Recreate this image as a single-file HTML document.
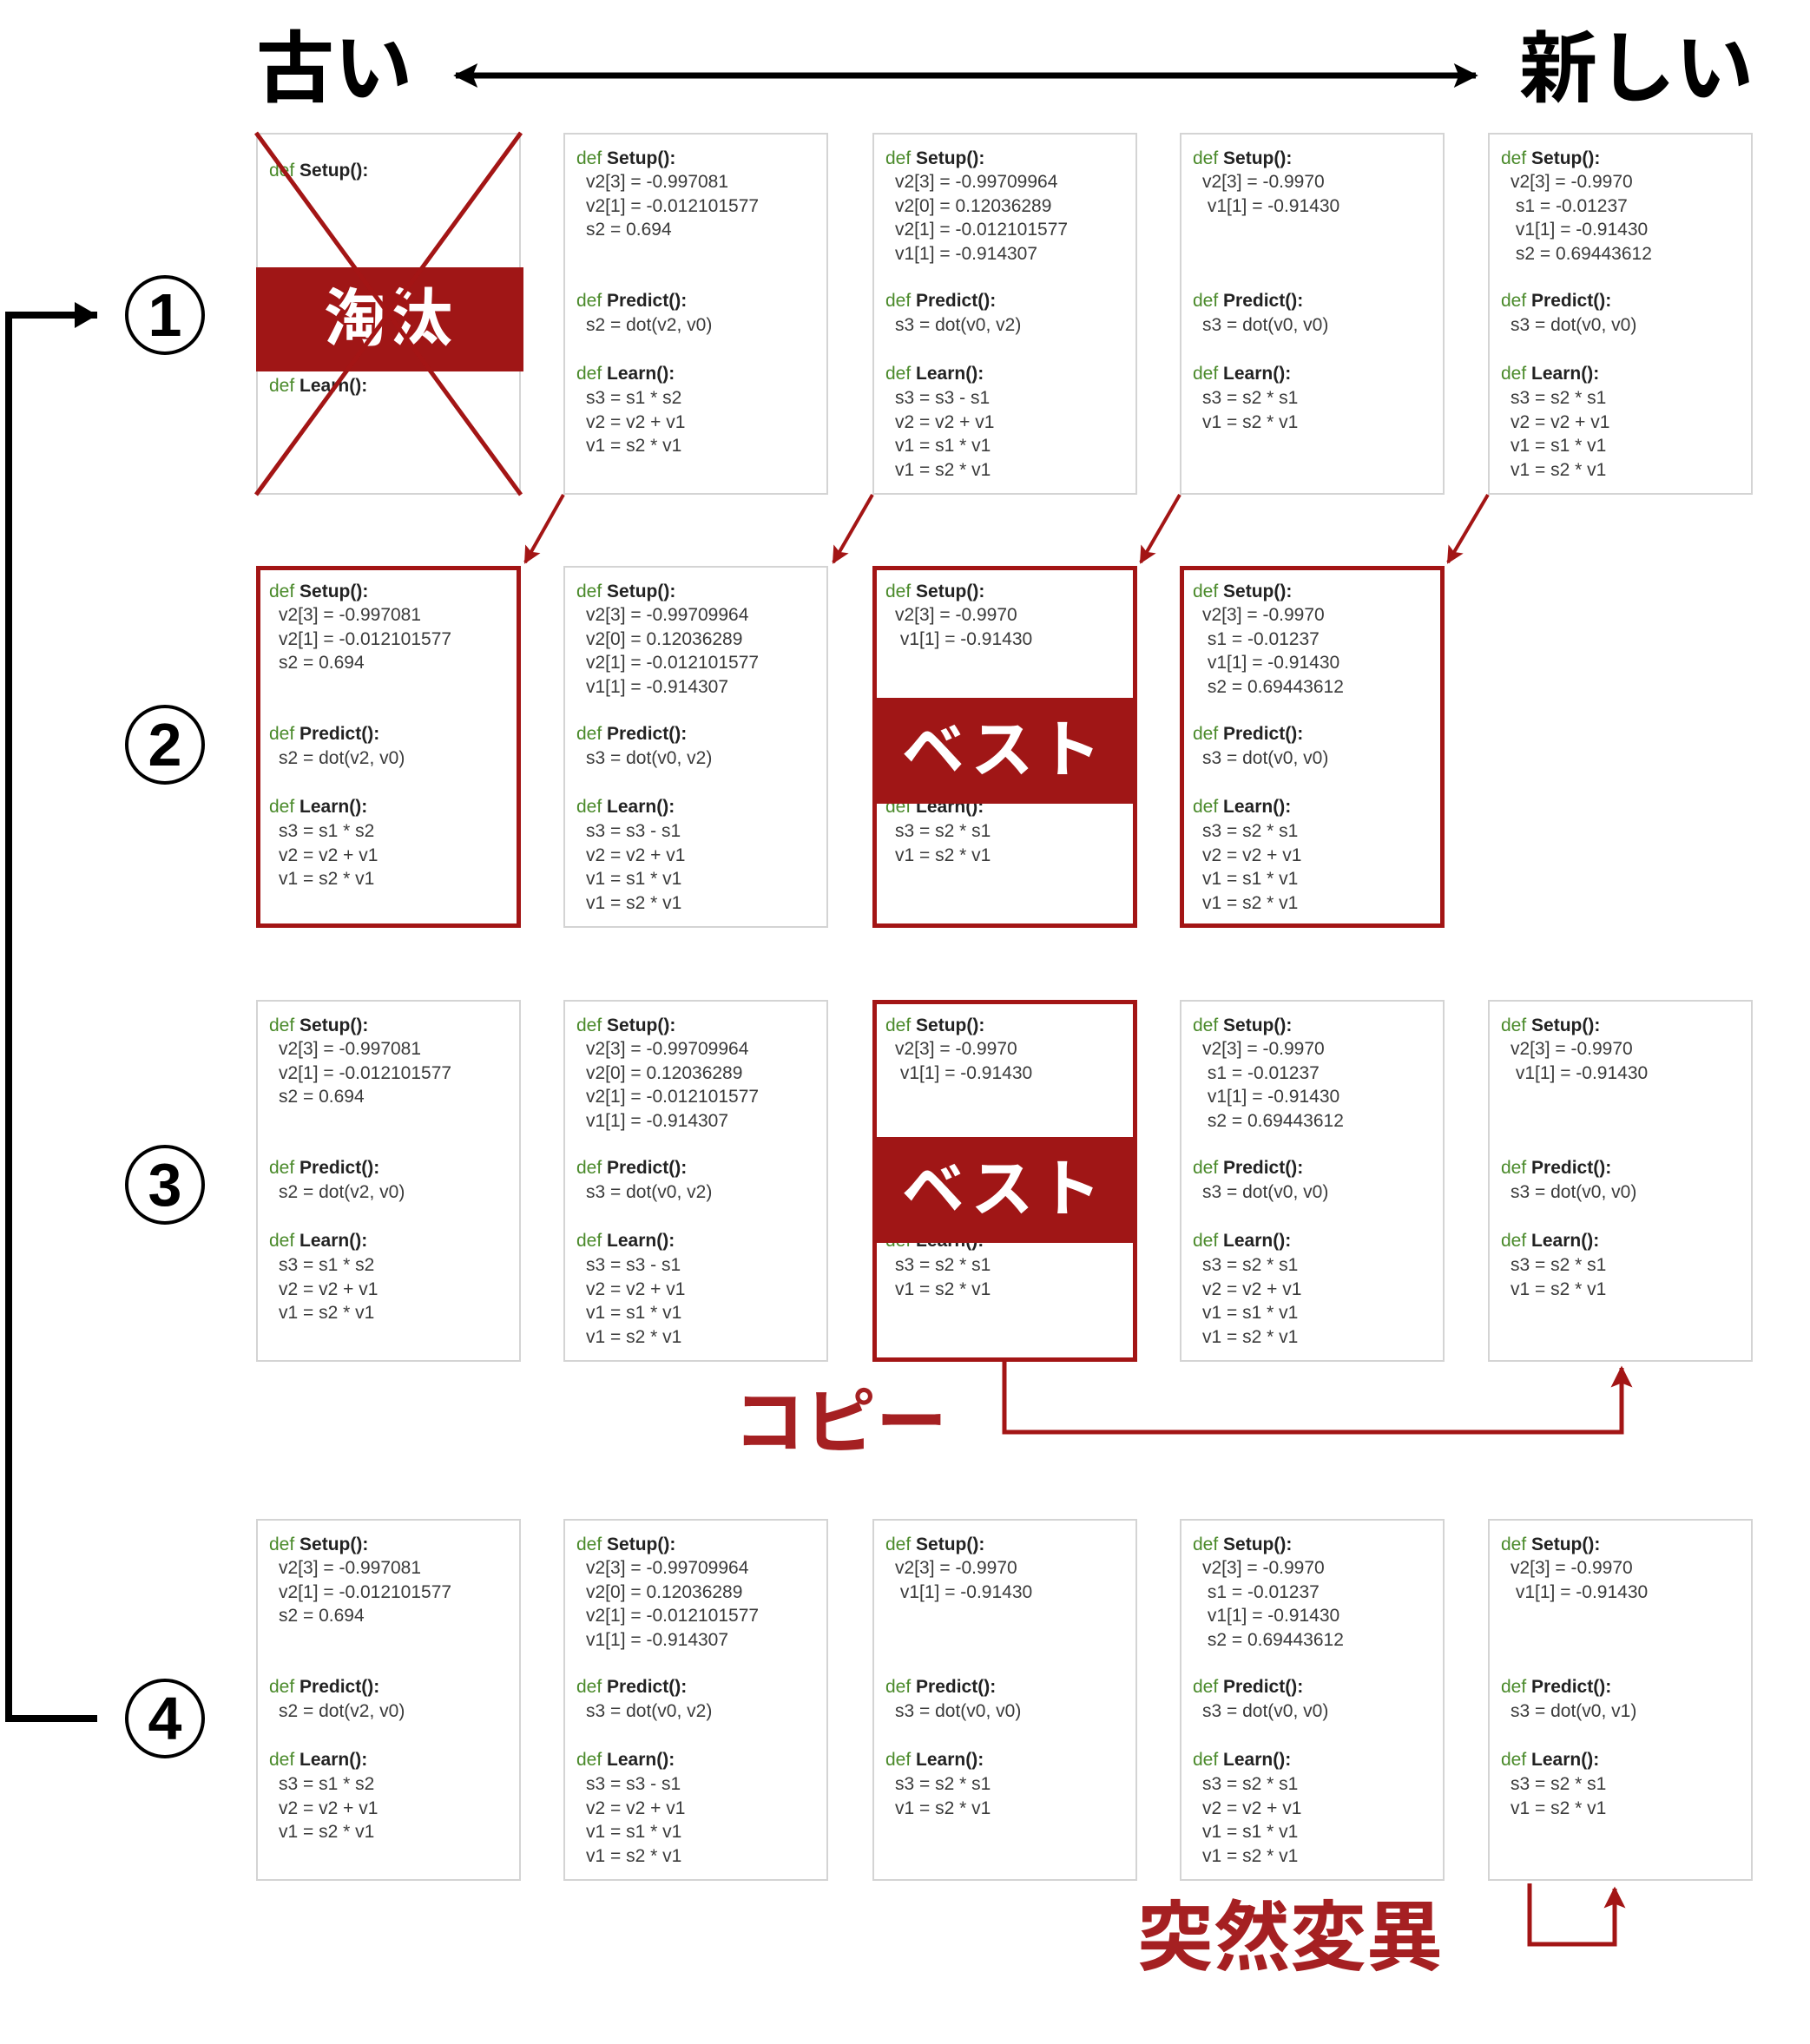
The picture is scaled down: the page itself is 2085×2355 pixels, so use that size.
<!DOCTYPE html>
<html><head><meta charset="utf-8">
<style>
html,body{margin:0;padding:0;background:#fff;}
#c{position:relative;width:2085px;height:2355px;overflow:hidden;font-family:"Liberation Sans",sans-serif;}
.box{position:absolute;width:305px;height:417px;box-sizing:border-box;border:2px solid #d4d4d4;background:#fff;}
.box.red{border:5px solid #a31515;}
.t{position:absolute;white-space:pre;font-size:21px;line-height:28px;color:#3a3a3a;}
.h{font-weight:bold;color:#222;}
.h b{font-weight:normal;color:#4a8a2a;}
.ban{position:absolute;background:#a01616;color:#fff;font-family:"Liberation Sans","Noto Sans CJK JP",sans-serif;font-weight:bold;text-align:center;}
.big{position:absolute;font-family:"Liberation Sans","Noto Sans CJK JP",sans-serif;font-weight:bold;white-space:nowrap;}
.circ{position:absolute;width:84px;height:84px;border:4px solid #000;border-radius:50%;text-align:center;line-height:84px;font-size:70px;font-weight:bold;color:#000;}
svg{position:absolute;left:0;top:0;}
</style></head><body>
<div id="c">
<div class="big" style="left:295px;top:25px;font-size:90px;line-height:110px;">古い</div>
<div class="big" style="left:1750px;top:25px;font-size:90px;line-height:110px;">新しい</div>
<div class="circ" style="left:144px;top:317px;">1</div>
<div class="circ" style="left:144px;top:812px;">2</div>
<div class="circ" style="left:144px;top:1319px;">3</div>
<div class="circ" style="left:144px;top:1934px;">4</div>
<div class="big" style="left:845px;top:1590px;font-size:82px;line-height:100px;color:#a52022;">コピー</div>
<div class="big" style="left:1310px;top:2180px;font-size:88px;line-height:105px;color:#a52022;">突然変異</div>
</div>
<script>
var C=document.getElementById('c');
var X=[295,649,1005,1359,1714],Y=[153,652,1152,1750];
var A={s:["v2[3] = -0.997081","v2[1] = -0.012101577","s2 = 0.694"],p:"s2 = dot(v2, v0)",l:["s3 = s1 * s2","v2 = v2 + v1","v1 = s2 * v1"]};
var B={s:["v2[3] = -0.99709964","v2[0] = 0.12036289","v2[1] = -0.012101577","v1[1] = -0.914307"],p:"s3 = dot(v0, v2)",l:["s3 = s3 - s1","v2 = v2 + v1","v1 = s1 * v1","v1 = s2 * v1"]};
var Cc={s:["v2[3] = -0.9970"," v1[1] = -0.91430"],p:"s3 = dot(v0, v0)",l:["s3 = s2 * s1","v1 = s2 * v1"]};
var D={s:["v2[3] = -0.9970"," s1 = -0.01237"," v1[1] = -0.91430"," s2 = 0.69443612"],p:"s3 = dot(v0, v0)",l:["s3 = s2 * s1","v2 = v2 + v1","v1 = s1 * v1","v1 = s2 * v1"]};
var E={s:Cc.s,p:"s3 = dot(v0, v1)",l:Cc.l};
function txt(x,y,html,cls){var d=document.createElement('div');d.className='t'+(cls?' '+cls:'');d.style.left=x+'px';d.style.top=(y-14)+'px';d.innerHTML=html;C.appendChild(d);}
function box(ci,ri,o,red){var x=X[ci],y=Y[ri];var b=document.createElement('div');b.className='box'+(red?' red':'');b.style.left=x+'px';b.style.top=y+'px';C.appendChild(b);
 if(!o)return;
 txt(x+15,y+30,'<b>def</b> Setup():','h');
 o.s.forEach(function(s,i){txt(x+26,y+57+27.7*i,s);});
 txt(x+15,y+194,'<b>def</b> Predict():','h');txt(x+26,y+222,o.p);
 txt(x+15,y+278,'<b>def</b> Learn():','h');
 o.l.forEach(function(s,i){txt(x+26,y+306+27.7*i,s);});}
box(0,0,null);txt(X[0]+15,Y[0]+44,'<b>def</b> Setup():','h');txt(X[0]+15,Y[0]+292,'<b>def</b> Learn():','h');
box(1,0,A);box(2,0,B);box(3,0,Cc);box(4,0,D);
box(0,1,A,1);box(1,1,B);box(2,1,Cc,1);box(3,1,D,1);
box(0,2,A);box(1,2,B);box(2,2,Cc,1);box(3,2,D);box(4,2,Cc);
box(0,3,A);box(1,3,B);box(2,3,Cc);box(3,3,D);box(4,3,E);
function ban(x,y,w,h,t,fs,ls){var d=document.createElement('div');d.className='ban';d.style.cssText='left:'+x+'px;top:'+y+'px;width:'+w+'px;height:'+h+'px;line-height:'+h+'px;font-size:'+fs+'px;letter-spacing:'+ls+'px;';d.textContent=t;C.appendChild(d);}
ban(295,308,308,120,'淘汰',72,4);
ban(1005,804,303,122,'ベスト',72,6);
ban(1005,1310,303,122,'ベスト',72,6);
var R='#a31515';
var s='<svg width="2085" height="2355" xmlns="http://www.w3.org/2000/svg">'+
'<defs><marker id="ar" viewBox="0 0 10 10" refX="9" refY="5" markerWidth="5" markerHeight="5" orient="auto"><path d="M0,0 L10,5 L0,10 L2,5 z" fill="'+R+'"/></marker>'+
'<marker id="ak" viewBox="0 0 10 10" refX="9" refY="5" markerWidth="4.5" markerHeight="4" orient="auto-start-reverse"><path d="M0,0 L10,5 L0,10 L2,5 z" fill="#000"/></marker></defs>'+
'<line x1="295" y1="153" x2="600" y2="570" stroke="'+R+'" stroke-width="5"/><line x1="600" y1="153" x2="295" y2="570" stroke="'+R+'" stroke-width="5"/>'+
'<line x1="525" y1="87" x2="1700" y2="87" stroke="#000" stroke-width="7" marker-start="url(#ak)" marker-end="url(#ak)"/>'+
'<polyline points="112,363 10,363 10,1980 112,1980" fill="none" stroke="#000" stroke-width="8"/>'+
'<path d="M112,363 L86,348 L86,378 z" fill="#000"/>';
[[649,605],[1005,960],[1359,1314],[1714,1668]].forEach(function(p){s+='<line x1="'+p[0]+'" y1="570" x2="'+p[1]+'" y2="648" stroke="'+R+'" stroke-width="4" marker-end="url(#ar)"/>';});
s+='<polyline points="1157,1569 1157,1650 1868,1650 1868,1576" fill="none" stroke="'+R+'" stroke-width="5" marker-end="url(#ar)"/>';
s+='<polyline points="1762,2170 1762,2240 1860,2240 1860,2176" fill="none" stroke="'+R+'" stroke-width="5" marker-end="url(#ar)"/>';
s+='</svg>';
C.insertAdjacentHTML('beforeend',s);
</script>
</body></html>
